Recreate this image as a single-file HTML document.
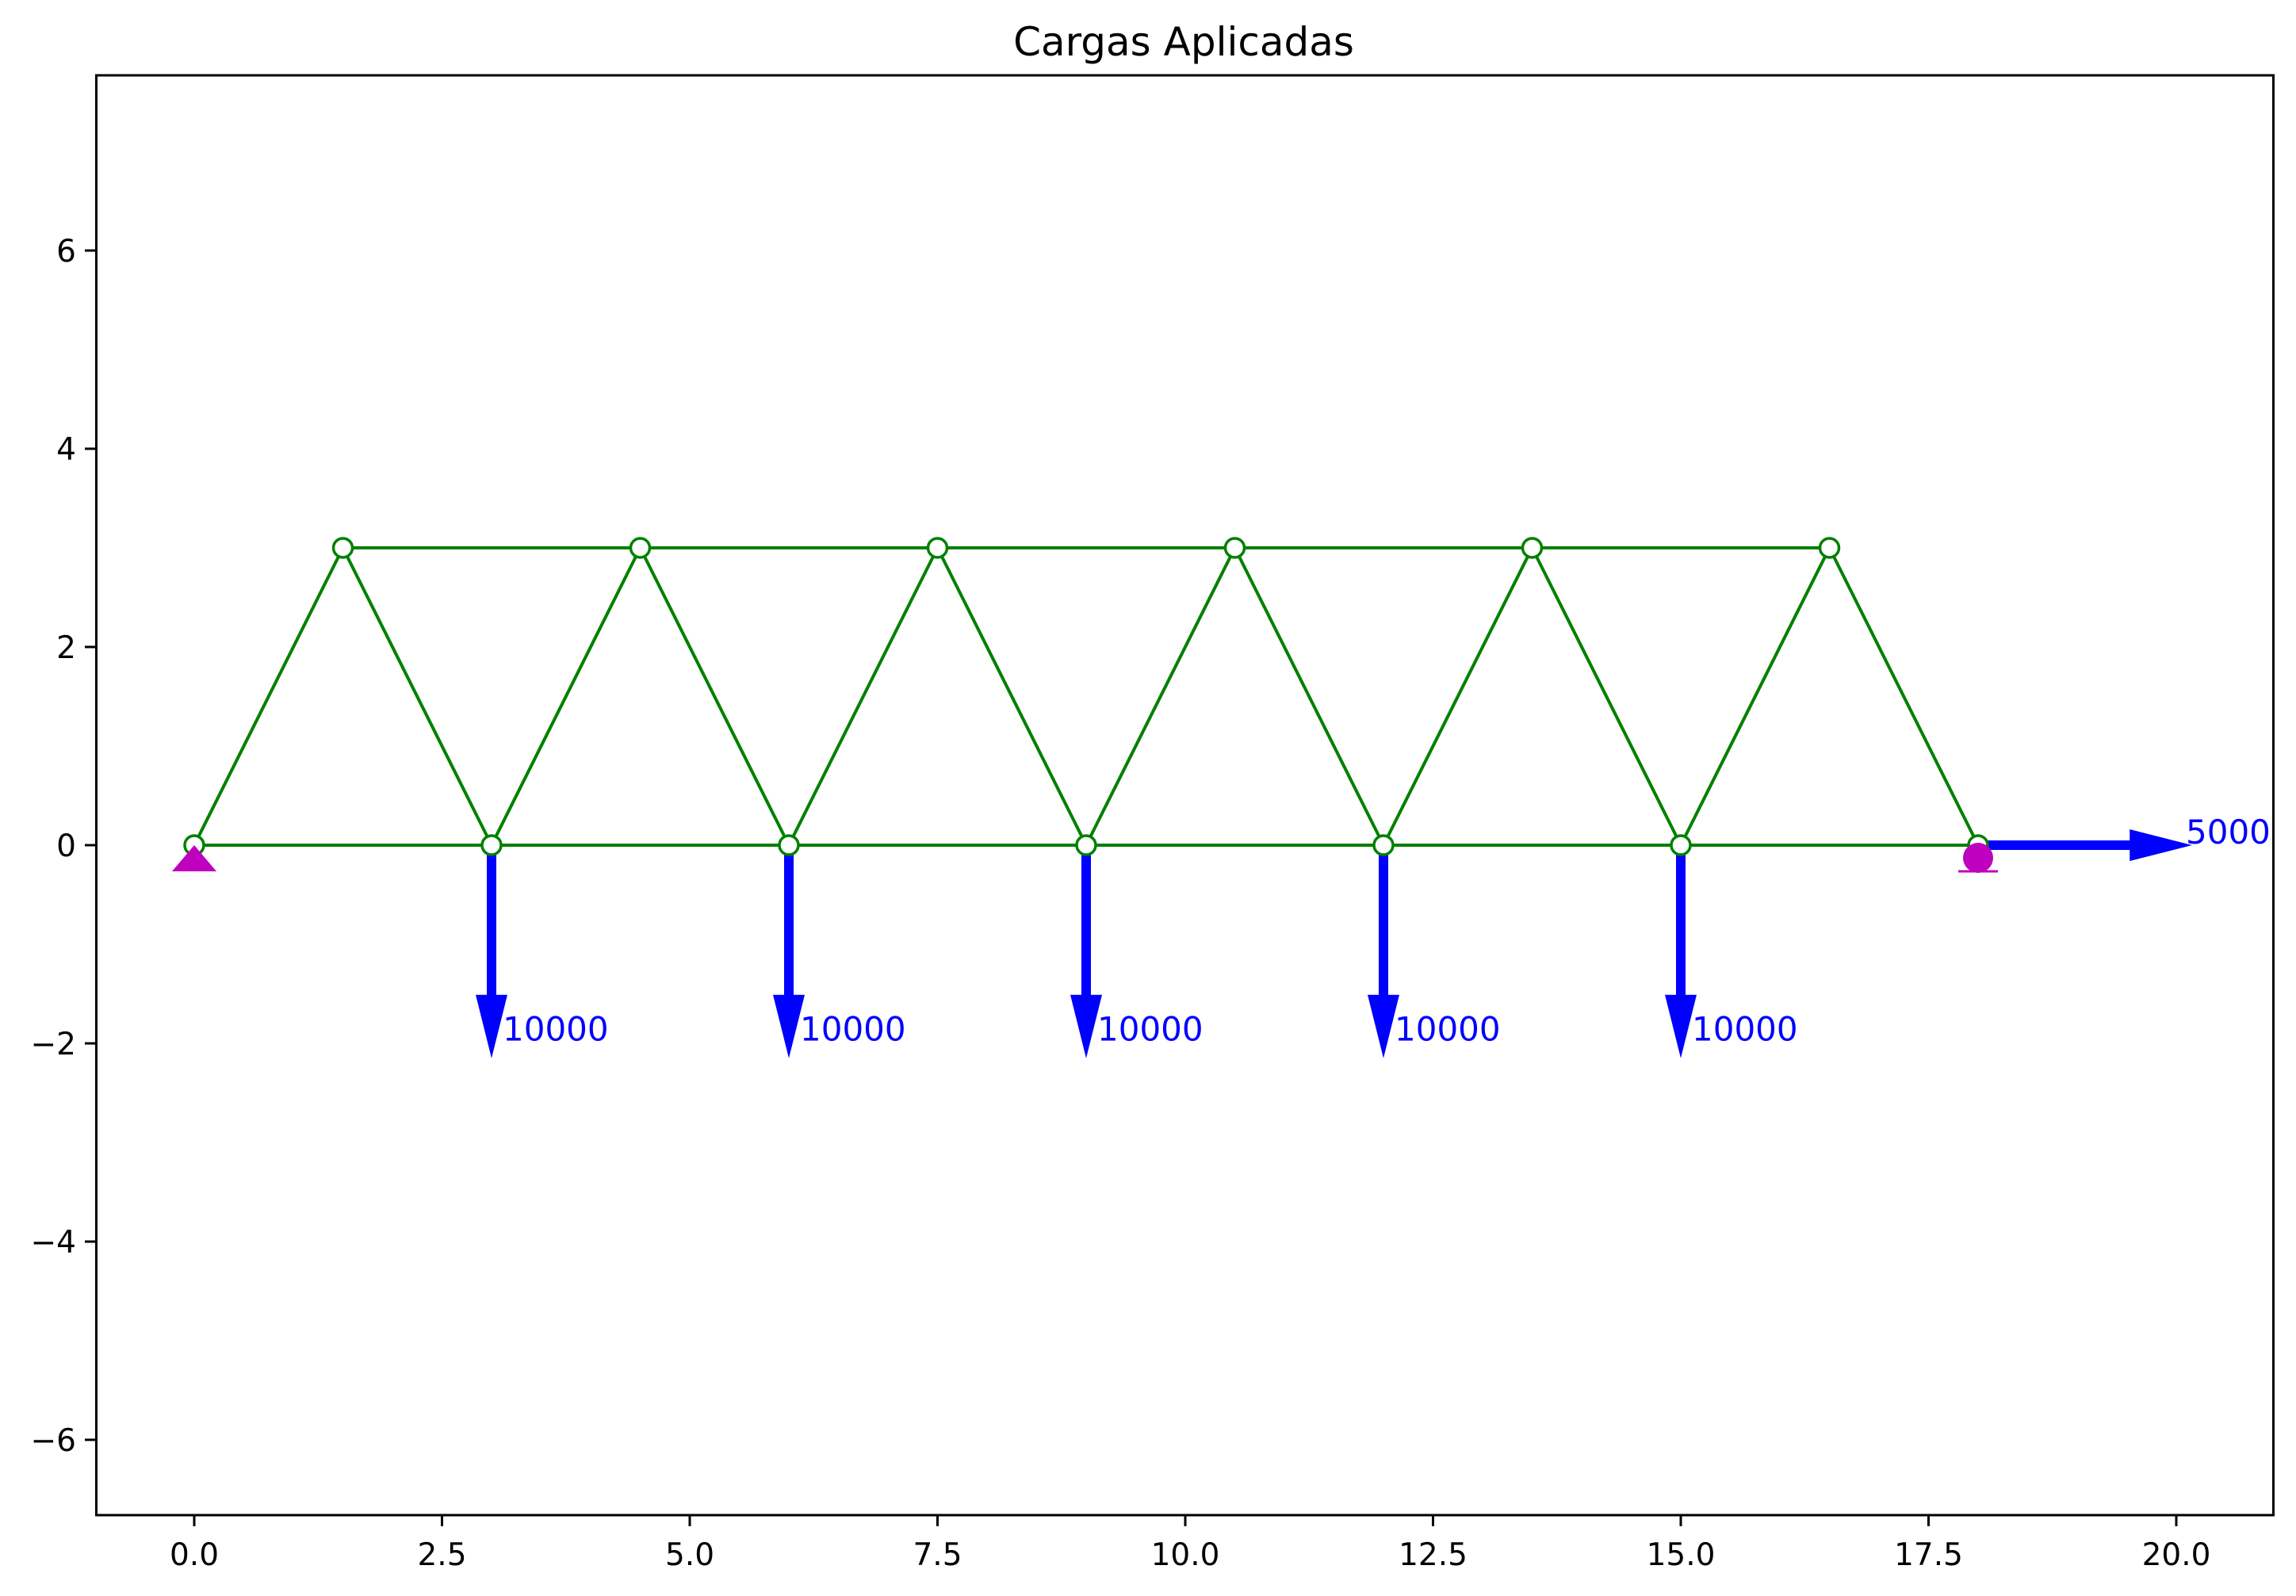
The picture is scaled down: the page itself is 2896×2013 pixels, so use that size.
<!DOCTYPE html>
<html><head><meta charset="utf-8"><style>
html,body{margin:0;padding:0;background:#fff}
svg{display:block;font-family:"DejaVu Sans","Liberation Sans",sans-serif}
</style></head><body>
<svg id="chart" width="2896" height="2013" viewBox="0 0 2896 2013" xmlns="http://www.w3.org/2000/svg">
<rect width="2896" height="2013" fill="#fff"/>
<text x="1493" y="70" font-size="50" text-anchor="middle">Cargas Aplicadas</text>
<g id="plot"></g>
<rect x="121.5" y="95" width="2746" height="1816" fill="none" stroke="#000" stroke-width="3"/>
</svg>
<script>
const bottomX = [0, 3, 6, 9, 12, 15, 18];
const topX = [1.5, 4.5, 7.5, 10.5, 13.5, 16.5];
const topY = 3;
const loadX = [3, 6, 9, 12, 15];
const loadLen = [2.15, 2.15, 2.15, 2.15, 2.15];
const loadLabels = ["10000", "10000", "10000", "10000", "10000"];
const hLoadX = [18];
const hLoadLen = [2.16];
const hLoadLabels = ["5000"];
const xTicks = [0, 2.5, 5, 7.5, 10, 12.5, 15, 17.5, 20];
const xTickLabels = ["0.0", "2.5", "5.0", "7.5", "10.0", "12.5", "15.0", "17.5", "20.0"];
const yTicks = [-6, -4, -2, 0, 2, 4, 6];
const yTickLabels = ["\u22126", "\u22124", "\u22122", "0", "2", "4", "6"];

const X = v => 245 + 125 * v;
const Y = v => 1066 - 125 * v;
const NS = "http://www.w3.org/2000/svg";
const g = document.getElementById('plot');
function mk(tag, attrs, parent) {
  const e = document.createElementNS(NS, tag);
  for (const k in attrs) e.setAttribute(k, attrs[k]);
  (parent || g).appendChild(e);
  return e;
}
const members = [];
for (let i = 0; i < bottomX.length - 1; i++) members.push([bottomX[i], 0, bottomX[i + 1], 0]);
for (let i = 0; i < topX.length - 1; i++) members.push([topX[i], topY, topX[i + 1], topY]);
for (let i = 0; i < topX.length; i++) {
  members.push([bottomX[i], 0, topX[i], topY]);
  members.push([topX[i], topY, bottomX[i + 1], 0]);
}
loadX.forEach((x, i) => {
  const tip = -loadLen[i];
  const headStart = tip + 0.64;
  const sh = mk('line', {x1: X(x), y1: Y(0), x2: X(x), y2: Y(headStart) + 2, stroke: '#0000ff', 'stroke-width': 12});
  
  
  const hd = mk('polygon', {points: `${X(x) - 20},${Y(headStart)} ${X(x) + 20},${Y(headStart)} ${X(x)},${Y(tip)}`, fill: '#0000ff'});
  
  
  const t = mk('text', {x: X(x) + 14, y: Y(-1.97), 'font-size': 42, fill: '#0000ff'});
  t.textContent = loadLabels[i];
  
  
});
hLoadX.forEach((x, i) => {
  const tip = x + hLoadLen[i];
  const headStart = tip - 0.63;
  const sh = mk('line', {x1: X(x), y1: Y(0), x2: X(headStart) + 2, y2: Y(0), stroke: '#0000ff', 'stroke-width': 12});
  
  
  const hd = mk('polygon', {points: `${X(headStart)},${Y(0) - 20} ${X(headStart)},${Y(0) + 20} ${X(tip)},${Y(0)}`, fill: '#0000ff'});
  
  
  const t = mk('text', {x: X(tip) - 8, y: Y(0) - 2, 'font-size': 42, fill: '#0000ff'});
  t.textContent = hLoadLabels[i];
  
  
});
members.forEach(m => {
  const l = mk('line', {x1: X(m[0]), y1: Y(m[1]), x2: X(m[2]), y2: Y(m[3]), stroke: '#008000', 'stroke-width': 4});
  
  
});
const tri = mk('polygon', {points: `${X(0)},${Y(0)} ${X(0) + 28},${Y(0) + 33} ${X(0) - 28},${Y(0) + 33}`, fill: '#bf00bf'});


const rc = mk('circle', {cx: X(18), cy: Y(0) + 16, r: 19, fill: '#bf00bf'});


const rl = mk('line', {x1: X(18) - 25, y1: Y(0) + 33, x2: X(18) + 25, y2: Y(0) + 33, stroke: '#bf00bf', 'stroke-width': 3});


const nodes = bottomX.map(x => [x, 0]).concat(topX.map(x => [x, topY]));
nodes.forEach(n => {
  const c = mk('circle', {cx: X(n[0]), cy: Y(n[1]), r: 12, fill: '#fff', stroke: '#008000', 'stroke-width': 3.5});
  
  
});
g.appendChild(tri);
g.appendChild(rc);
xTicks.forEach((v, i) => {
  const tk = mk('line', {x1: X(v), y1: 1911, x2: X(v), y2: 1925, stroke: '#000', 'stroke-width': 3});
  
  
  const t = mk('text', {x: X(v), y: 1974, 'font-size': 39, 'text-anchor': 'middle'});
  t.textContent = xTickLabels[i];
  
  
});
yTicks.forEach((v, i) => {
  const tk = mk('line', {x1: 107, y1: Y(v), x2: 121.5, y2: Y(v), stroke: '#000', 'stroke-width': 3});
  
  
  const t = mk('text', {x: 96, y: Y(v) + 14, 'font-size': 39, 'text-anchor': 'end'});
  t.textContent = yTickLabels[i];
  
  
});
</script>
</body></html>
